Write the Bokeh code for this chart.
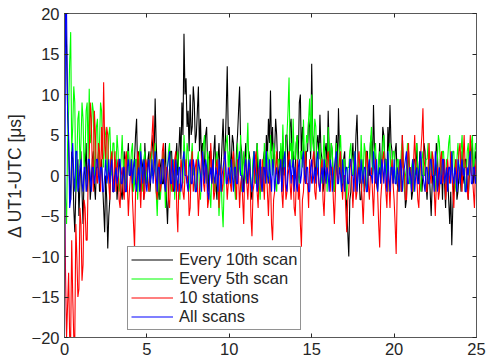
from bokeh.plotting import figure
from bokeh.models import (Range1d, LinearAxis, FixedTicker, Legend, LegendItem,
                          CustomJSTickFormatter)
from bokeh.embed import file_html
from bokeh.resources import INLINE

# sampling of the time axis
T_START = 0.0
T_STEP = 0.0625

# Every 10th scan (black)
every10 = [
    20, 20, 16, 8, 4, -1, -3, 3, 2, -4, -7, -2, 0, 2, -5, -1,
    3, -2, -6, 0, 1, 4, -2, 1, 2, -3, -1, 2, 3, -1, -3, 1,
    1, 3, -2, 0, 2, -1, -4, -7, 0, -3, -9, -5, -3, 2, 1, -2,
    -2, 1, 2, -3, -1, 2, 1, -2, -3, 0, 3, -1, -1, 2, 4, 0,
    0, 2, -2, 1, 2, 5, 7, 0, 3, -1, -2, 2, 1, -3, 4, 1,
    -1, 2, 3, -2, 0, 3, 5, 2, 9.5, 4, 1, -2, -3, 1, 2, -1,
    -1, 1, 4, -3, -6, -2, 1, 3, 3, -1, -2, 1, 2, 4, 0, 3,
    6, 2, 9, 5, 17.5, 10, 12, 6, 8, 3, 10, 5, 6, 11, 9, 4,
    5, 8, 11, 3, 7, 2, 4, 0, 2, 5, 6, 1, -2, 3, 3, -1,
    0, 3, 5, -1, -3, 2, 4, 0, 1, 4, 7, 2, 3, 8, 13.5, 5,
    6, 1, 2, 5, 4, 0, -1, 3, 5, 8, 11, 4, 3, 0, -2, 2,
    4, -1, 0, 3, 2, -2, -3, 1, 3, -1, 1, 4, -2, 0, 2, -1,
    -1, 2, 3, 0, 5, 2, 7, 4, 10.5, 3, 6, 1, 3, 7, 5, 1,
    -1, 3, 2, -2, 4, 0, 1, 5, 5, 1, 2, 6, 7, 2, 3, -1,
    1, 4, 5, 2, 9, 10, 2, 6, 4, 0, -1, 3, 3, 7, 6, 2,
    13.8, 5, 4, 0, 1, 4, 5, 2, 7.5, 3, 2, -2, -1, 3, 4, 1,
    8, 3, 1, 4, 3, -1, -2, 2, 5, 1, 8.3, 3, 2, -2, -1, 2,
    3, -1, -4, -7, -10, -3, -2, 2, 4, 0, 1, 5, 7.5, 2, 0, -3,
    -3, 0, 2, -2, -1, 3, 3, 0, 0, 4, 5, 1, 8.7, 3, 2, -1,
    -2, 1, 4, 0, 1, 6, 5, 2, 2, -1, 6, 3, 8.7, 4, 3, -1,
    0, 3, 4, -1, -2, 1, 2, -2, 5, 1, 0, -4, -3, 1, 3, 0,
    1, -3, -2, 2, 2, 0, 4, 1, -1, 3, 2, -2, 0, 4, 3, -1,
    -3, 0, 1, -2, -5, -1, 2, 0, 0, 4, 3, -1, -2, 2, 1, -3,
    2, -1, -4, 1, 0, -3, -6, -2, -8.6, -4, -1, 1, 2, -3, -2, 0,
    1, -2, 3, 0, -1, 2, 2, -1, -3, 0, 1, 3, 4, -1, 0, 3,
    2,
]

# Every 5th scan (green)
every5 = [
    0, -3, -6, 4, 8, 14, 17.7, 3, 6, 11, 9, -2, 2, 7, 8, 1,
    4, 9, 7, 1, 3, 8, 9, 2, 10.7, 4, 5, 9, 8, 0, 2, 6,
    7, 1, 4, 9, 8, 3, 1, 6, 5, -1, 2, 5, 6, 2, 0, 4,
    4, 0, 1, 5, 3, -2, -1, 2, 5, 1, 2, -1, -2, 3, 3, 0,
    1, 3, 4, -2, -1, 2, 2, -3, 0, 3, 4, 0, -2, 2, 3, -1,
    1, -1, -2, 2, 3, 0, 0, 3, 4, -2, -5, -1, 2, -3, -1, 2,
    3, 0, -4, -1, 1, 3, 4, -1, -2, 1, 2, -3, 0, 2, 3, -1,
    -3, 1, 2, -1, 5, 2, 0, 4, 3, -1, -2, 2, 4, 0, 1, -2,
    -1, 2, 3, -2, -3, 0, 2, 4, 5, 1, -1, 3, 2, -2, -4, 0,
    1, -1, -2, 2, 3, -1, -5, -2, 0, -4, -6.4, -1, 2, 4, 5, 1,
    3, 0, -1, 2, 2, -1, -3, 1, 4, 0, 1, 5, -2, 1, 3, -1,
    0, 3, 6.5, 1, 2, -1, -2, 2, 3, 0, -1, 4, 2, -1, -3, 1,
    1, -2, 4, 1, -1, 3, 2, -1, 5, 2, 0, 4, 3, -1, -2, 2,
    2, 0, 4, 1, 6.3, 2, 1, 4, 5, 8, 12.1, 3, 4, 1, 7, 2,
    2, 4, 5, 0, -1, 3, 3, 1, 6.9, 2, 2, 5, 4, 7, 9.5, 3,
    10, 4, 3, 7, 6, 0, 1, 3, 4, 0, -1, 2, 5, 1, 2, -2,
    6, 2, 0, 4, 3, -1, -2, 2, 4, 0, 1, 3, 5, 1, -1, 2,
    2, -1, -3, 1, 1, 3, 4, 0, 0, 2, 3, -2, -1, 1, 2, -1,
    5, 1, 0, 4, 3, -1, -2, 1, 2, 4, 6, 0, 1, 3, 4, 0,
    -1, 2, 3, -1, 0, 4, 5, 1, 2, -1, -2, 3, 4, 0, 1, 3,
    3, 0, -1, 2, 2, -2, 0, 3, 4, 1, -2, 0, 1, 4, 3, -1,
    -1, 1, 2, -2, 0, 3, 4, 1, 1, -1, -2, 2, 3, 0, 0, 2,
    2, 4, -1, 1, 3, 0, 1, -1, -2, 1, 2, 5, 4, 1, 0, 3,
    3, 0, -1, 2, 2, 4, 5, 0, 1, 3, 3, -2, -1, 2, 4, 1,
    0, 3, 5, 1, 2, -2, -1, 3, 4, 0, 1, 4, 5, 1, 2, 4,
    3,
]

# 10 stations (red)
stations10 = [
    0, -12, -20, -16, -12, -20, -20, -8, -15, -20, -20, -6, -10, -15, -14, -4,
    -6, -13, -11, -3, -4, -8, -8, 0, 2, 9, 7, 1, -2, 8, 5, 0,
    -1, 4, 3, -2, 6, 2, 11.5, 4, 2, 6, 5, -1, -3, 2, 3, -2,
    0, 3, -2, 1, 2, -3, -4, 0, 1, -2, -3, 2, 3, -1, -5, -2,
    0, 2, -3, -6, -9, -2, -1, 3, 2, -1, -4, 0, 1, -3, -2, 2,
    1, -1, -2, 2, 3, 5, 7.4, 1, 0, -2, -3, 1, 2, -2, -1, 3,
    4, 0, -2, 1, 1, -3, -4, 0, 2, -2, -1, 2, 3, -4, -7, -1,
    -2, 2, 1, -2, -3, 0, 2, -1, 0, -5, -4, 1, 3, -2, -1, 1,
    2, -1, -5, -2, 0, 2, 3, -1, -2, 1, 1, -4, -3, 0, 4, 1,
    0, -3, -2, 1, 2, -1, -4, 0, 1, -2, -1, 2, 3, 0, -3, -1,
    1, -1, -2, 2, 3, 0, -1, -3, 2, 0, -4, -1, 0, -3, -6, 1,
    2, -1, -3, 0, 1, -5, -7.5, -2, -1, 2, 3, -2, -4, 1, 0, -2,
    2, 0, -3, 1, 1, -2, -5, -1, 0, -6, -8, -3, -2, 1, 3, -1,
    -1, 1, 2, -2, -4, 0, 1, -3, -2, 2, 3, -1, -3, 0, 0, -4,
    -5, -1, 2, -3, -1, -6, -8.8, -3, -2, 1, 3, -1, -1, -4, 2, 0,
    -1, 2, 3, -2, -3, 0, 1, -1, -2, 1, 2, -3, -5, -1, 0, 2,
    3, 0, -2, 1, 1, -3, -6, -2, 2, 0, -1, 2, 3, -1, -3, 0,
    0, -4, -7, -3, -2, 1, 2, -1, -4, -1, 1, -3, -2, 2, 3, 0,
    -1, -3, -6, -2, 0, 3, 2, -1, -3, 0, 1, -2, -5, -1, 2, 0,
    -2, -6, -8.9, -3, -1, 2, 3, 0, -2, -4, 1, -1, -4, 0, 2, -1,
    -3, -6, -9.7, -2, -1, 1, 2, -2, 5, 1, 0, -3, -3, 2, 4, 0,
    1, -1, -2, 2, 5, 1, 0, -3, -4, 0, 3, 5, 8.3, 2, 1, -2,
    -2, 1, 4, 0, -1, 3, 2, -2, -5, -1, 1, -3, -2, 2, 3, -1,
    0, 2, -3, -1, 2, 0, -1, 3, 1, -2, -4, 0, 2, -1, 0, 3,
    4, 0, -2, 2, 5, 1, 1, -2, -3, 2, 5, 0, 0, -2, -4, 1,
    2,
]

# All scans (blue)
all_scans = [
    -20, 20, 20, 8, 5, -4, -3, 2, 4, 0, -2, 3, 3, -2, -1, 1,
    2, -1, -2, 1, 1, -2, -1, 2, 2, 0, -2, 1, 1, -1, 0, 2,
    2, 0, -1, 1, 1, -2, -2, 0, 2, -1, 0, 2, -1, 1, 2, -2,
    -2, 0, 1, -1, 0, 2, 2, -1, -1, 1, 1, -2, -2, 1, 2, 0,
    0, 2, -1, 1, 2, -1, -2, 0, 1, -2, 3, 1, -1, 2, 1, -1,
    -2, 1, 2, -1, 0, 2, -1, 1, 3, 0, -2, 1, 1, -1, -1, 2,
    2, -1, -2, 0, 1, 2, 3, -1, -1, 2, 0, -2, 2, 0, -2, 1,
    1, -2, -1, 2, 3, 0, 0, -1, -2, 1, 2, -1, -1, 2, 1, -2,
    -2, 0, 2, 1, 0, -2, 3, 1, -1, 2, 1, -2, -3, 0, 1, -1,
    2, 0, -1, 1, 0, -2, 2, 1, -2, 0, 1, 2, 3, -1, -1, 1,
    0, -1, 2, 0, -2, 1, 1, -1, -1, 2, 3, 0, 0, -2, -2, 1,
    2, 0, -1, 2, 1, -1, -2, 0, 3, 1, 0, -2, -1, 1, 2, -1,
    -2, 1, 1, -1, 3, 0, -1, 2, 0, -2, 2, 1, -2, 0, 1, -1,
    -1, 1, 2, -2, 0, 2, 3, -1, -2, 0, 1, 2, -1, 1, 2, -2,
    1, -1, -2, 1, 2, -1, 0, 2, 3, 0, -1, 1, 1, -2, -2, 1,
    2, -1, 0, 1, -1, 2, 3, -1, -2, 0, 1, -1, 2, 1, -1, 1,
    0, -2, 2, 1, -2, 0, 1, 2, 3, -1, -1, 1, 0, -2, 2, 0,
    -2, 1, 1, -1, -1, 2, 2, 0, 0, -2, 3, 1, -2, 0, 1, -1,
    2, 0, -1, 1, 1, -2, -2, 1, 2, 0, 0, -1, 3, 1, -1, 2,
    -2, 0, 1, -1, 2, 1, -1, 2, 0, -2, 3, 0, -2, 1, 1, -1,
    2, -1, -1, 1, 0, -2, 2, 1, -2, 0, 1, 2, 3, -1, -1, 1,
    0, -2, 2, 1, -2, 0, 1, -1, -1, 2, 3, 0, 0, -1, -2, 1,
    1, -1, -1, 2, 2, 0, 0, -2, 3, 1, -2, 0, 1, -1, -1, 2,
    2, -1, 0, 1, -2, 1, 1, -1, 3, 0, -1, 1, 0, -2, 2, 1,
    -1, 1, 2, 0, 1, -2, -2, 1, 0, 2, 3, -1, -1, 1, 1, -1,
    0,
]

series_values = [every10, every5, stations10, all_scans]
series_labels = ["Every 10th scan", "Every 5th scan", "10 stations", "All scans"]
series_colors = ["#000000", "#00ff00", "#ff0000", "#0000ff"]

x_ticks = [0, 5, 10, 15, 20, 25]
y_ticks = [-20, -15, -10, -5, 0, 5, 10, 15, 20]
y_label = "\u0394 UT1-UTC [\u03bcs]"

FONT = "Liberation Sans"
TXT = "#262626"
AX = "#595959"


def times(vals):
    return [T_START + T_STEP * i for i in range(len(vals))]


p = figure(width=488, height=364, output_backend="svg", toolbar_location=None,
           x_range=Range1d(0, 25), y_range=Range1d(-20, 20),
           min_border_left=64, min_border_right=12, min_border_top=13,
           min_border_bottom=27)
p.xgrid.visible = False
p.ygrid.visible = False
p.outline_line_color = AX
p.background_fill_color = "white"

renderers = []
for vals, col in zip(series_values, series_colors):
    r = p.line(times(vals), vals, line_color=col, line_width=1.1)
    renderers.append(r)

blank = CustomJSTickFormatter(code="return ''")
p.add_layout(LinearAxis(formatter=blank), "right")
p.add_layout(LinearAxis(formatter=blank), "above")

for ax in p.xaxis:
    ax.ticker = FixedTicker(ticks=x_ticks)
for ax in p.yaxis:
    ax.ticker = FixedTicker(ticks=y_ticks)

for ax in list(p.xaxis) + list(p.yaxis):
    ax.axis_line_color = AX
    ax.major_tick_line_color = TXT
    ax.major_tick_in = 4
    ax.major_tick_out = 0
    ax.minor_tick_in = 0
    ax.minor_tick_out = 0
    ax.major_label_text_font = FONT
    ax.major_label_text_font_size = "16.5px"
    ax.major_label_text_color = TXT
    ax.major_label_standoff = 5

p.right[0].major_label_standoff = 0
p.above[0].major_label_standoff = 0

left_ax = p.left[0]
left_ax.axis_label = y_label
left_ax.axis_label_text_font = FONT
left_ax.axis_label_text_font_size = "17.5px"
left_ax.axis_label_text_font_style = "normal"
left_ax.axis_label_text_color = TXT
left_ax.axis_label_standoff = 4

legend = Legend(items=[LegendItem(label=lab, renderers=[r])
                       for lab, r in zip(series_labels, renderers)],
                location=(63, 7))
legend.label_text_font = FONT
legend.label_text_font_size = "16.5px"
legend.label_text_color = TXT
legend.border_line_color = TXT
legend.border_line_width = 1
legend.padding = 3
legend.spacing = 0
legend.margin = 0
legend.glyph_width = 42
legend.glyph_height = 19
legend.label_height = 19
legend.label_standoff = 6
legend.background_fill_alpha = 1
p.add_layout(legend, "center")

open("out.html", "w").write(file_html(p, INLINE))
